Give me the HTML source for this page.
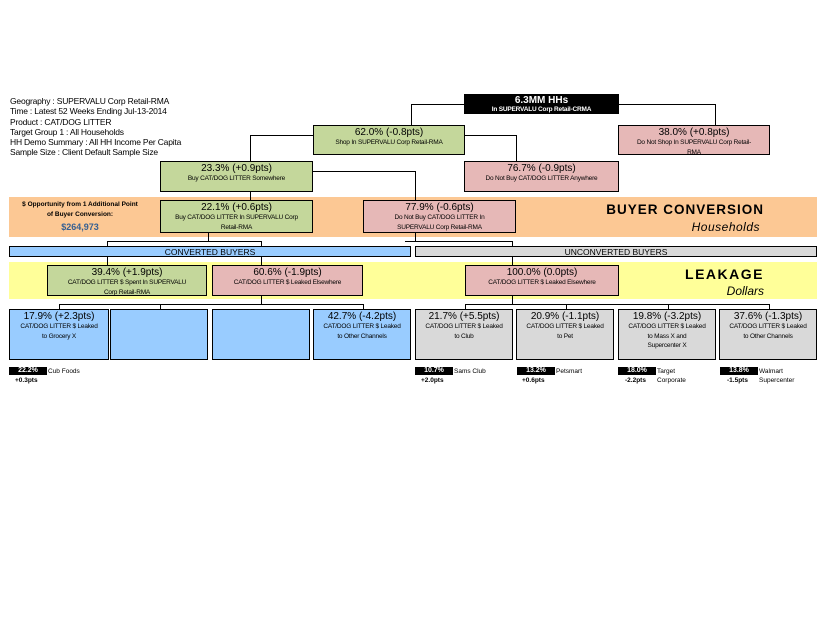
<!DOCTYPE html>
<html><head><meta charset="utf-8"><style>
body{margin:0;width:825px;height:638px;background:#fff;position:relative;overflow:hidden;font-family:"Liberation Sans",Arial,sans-serif;color:#000}
div{position:absolute;box-sizing:border-box}
.b div{position:static}
.b{border:1px solid #000;text-align:center;line-height:1}
.g{background:#c4d79b}.p{background:#e6b8b7}.bl{background:#99ccff}.gr{background:#d9d9d9}
.t{font-size:10px;margin-top:1px;line-height:11px}
.s{font-size:6.5px;line-height:9.5px;letter-spacing:-0.2px;white-space:nowrap}
.ln{background:#000}
.bd{background:#000;color:#fff;font-size:7px;font-weight:bold;text-align:center;height:8px;line-height:8px;width:38px}
.dl{font-size:6.5px;font-weight:bold}
.nm{font-size:6.5px;line-height:9px}
</style></head><body>
<div style="left:10px;top:96px;font-size:8.5px;line-height:10.3px;letter-spacing:-0.2px">Geography : SUPERVALU Corp Retail-RMA<br>Time : Latest 52 Weeks Ending Jul-13-2014<br>Product : CAT/DOG LITTER<br>Target Group 1 : All Households<br>HH Demo Summary : All HH Income Per Capita<br>Sample Size : Client Default Sample Size</div>

<!-- bands -->
<div style="left:9px;top:197px;width:808px;height:40px;background:#fcc894"></div>
<div style="left:9px;top:262px;width:808px;height:37px;background:#ffff99"></div>
<div style="left:5px;top:200px;width:150px;font-size:6.5px;font-weight:bold;text-align:center;line-height:10px;white-space:nowrap">$ Opportunity from 1 Additional Point<br>of Buyer Conversion:</div>
<div style="left:5px;top:222px;width:150px;font-size:9px;font-weight:bold;color:#366092;text-align:center">$264,973</div>
<div style="left:560px;top:202px;width:204px;text-align:right;font-size:13.5px;font-weight:bold;letter-spacing:1px;white-space:nowrap">BUYER CONVERSION</div>
<div style="left:560px;top:220px;width:200px;text-align:right;font-size:12px;font-style:italic;letter-spacing:0.5px">Households</div>
<div style="left:600px;top:266px;width:164px;text-align:right;font-size:14px;font-weight:bold;letter-spacing:1.5px">LEAKAGE</div>
<div style="left:600px;top:284px;width:164px;text-align:right;font-size:12px;font-style:italic">Dollars</div>

<!-- connectors -->
<div class="ln" style="left:411px;top:104px;width:53px;height:1px"></div>
<div class="ln" style="left:411px;top:104px;width:1px;height:21px"></div>
<div class="ln" style="left:619px;top:104px;width:96px;height:1px"></div>
<div class="ln" style="left:715px;top:104px;width:1px;height:21px"></div>
<div class="ln" style="left:465px;top:135px;width:51px;height:1px"></div>
<div class="ln" style="left:516px;top:135px;width:1px;height:26px"></div>
<div class="ln" style="left:250px;top:135px;width:63px;height:1px"></div>
<div class="ln" style="left:250px;top:135px;width:1px;height:26px"></div>
<div class="ln" style="left:313px;top:171px;width:102px;height:1px"></div>
<div class="ln" style="left:415px;top:171px;width:1px;height:29px"></div>
<div class="ln" style="left:250px;top:192px;width:1px;height:8px"></div>
<div class="ln" style="left:208px;top:233px;width:1px;height:8px"></div>
<div class="ln" style="left:107px;top:241px;width:155px;height:1px"></div>
<div class="ln" style="left:107px;top:241px;width:1px;height:5px"></div>
<div class="ln" style="left:261px;top:241px;width:1px;height:5px"></div>
<div class="ln" style="left:415px;top:233px;width:1px;height:9px"></div>
<div class="ln" style="left:405px;top:241px;width:108px;height:1px"></div>
<div class="ln" style="left:512px;top:241px;width:1px;height:5px"></div>
<div class="ln" style="left:107px;top:257px;width:1px;height:8px"></div>
<div class="ln" style="left:261px;top:257px;width:1px;height:8px"></div>
<div class="ln" style="left:512px;top:257px;width:1px;height:8px"></div>
<div class="ln" style="left:261px;top:296px;width:1px;height:9px"></div>
<div class="ln" style="left:59px;top:304px;width:305px;height:1px"></div>
<div class="ln" style="left:59px;top:304px;width:1px;height:5px"></div>
<div class="ln" style="left:160px;top:304px;width:1px;height:5px"></div>
<div class="ln" style="left:363px;top:304px;width:1px;height:5px"></div>
<div class="ln" style="left:512px;top:296px;width:1px;height:9px"></div>
<div class="ln" style="left:465px;top:304px;width:305px;height:1px"></div>
<div class="ln" style="left:465px;top:304px;width:1px;height:5px"></div>
<div class="ln" style="left:566px;top:304px;width:1px;height:5px"></div>
<div class="ln" style="left:668px;top:304px;width:1px;height:5px"></div>
<div class="ln" style="left:769px;top:304px;width:1px;height:5px"></div>

<!-- boxes -->
<div class="b" style="left:464px;top:94px;width:155px;height:20px;background:#000;color:#fff"><div class="t" style="font-weight:bold;font-size:10px;margin-top:1px;line-height:10px">6.3MM HHs</div><div class="s" style="font-weight:bold;line-height:7px">In SUPERVALU Corp Retail-CRMA</div></div>
<div class="b g" style="left:313px;top:125px;width:152px;height:30px"><div class="t">62.0% (-0.8pts)</div><div class="s">Shop In SUPERVALU Corp Retail-RMA</div></div>
<div class="b p" style="left:618px;top:125px;width:152px;height:30px"><div class="t">38.0% (+0.8pts)</div><div class="s">Do Not Shop In SUPERVALU Corp Retail-<br>RMA</div></div>
<div class="b g" style="left:160px;top:161px;width:153px;height:31px"><div class="t">23.3% (+0.9pts)</div><div class="s">Buy CAT/DOG LITTER Somewhere</div></div>
<div class="b p" style="left:464px;top:161px;width:155px;height:31px"><div class="t">76.7% (-0.9pts)</div><div class="s">Do Not Buy CAT/DOG LITTER Anywhere</div></div>
<div class="b g" style="left:160px;top:200px;width:153px;height:33px"><div class="t">22.1% (+0.6pts)</div><div class="s">Buy CAT/DOG LITTER In SUPERVALU Corp<br>Retail-RMA</div></div>
<div class="b p" style="left:363px;top:200px;width:153px;height:33px"><div class="t">77.9% (-0.6pts)</div><div class="s">Do Not Buy CAT/DOG LITTER In<br>SUPERVALU Corp Retail-RMA</div></div>

<div class="b bl" style="left:9px;top:246px;width:402px;height:11px;font-size:8.5px;line-height:10px">CONVERTED BUYERS</div>
<div class="b gr" style="left:415px;top:246px;width:402px;height:11px;font-size:8.5px;line-height:10px">UNCONVERTED BUYERS</div>

<div class="b g" style="left:47px;top:265px;width:160px;height:31px"><div class="t">39.4% (+1.9pts)</div><div class="s">CAT/DOG LITTER $ Spent In SUPERVALU<br>Corp Retail-RMA</div></div>
<div class="b p" style="left:212px;top:265px;width:151px;height:31px"><div class="t">60.6% (-1.9pts)</div><div class="s">CAT/DOG LITTER $ Leaked Elsewhere</div></div>
<div class="b p" style="left:465px;top:265px;width:154px;height:31px"><div class="t">100.0% (0.0pts)</div><div class="s">CAT/DOG LITTER $ Leaked Elsewhere</div></div>

<div class="b bl" style="left:9px;top:309px;width:100px;height:51px"><div class="t">17.9% (+2.3pts)</div><div class="s">CAT/DOG LITTER $ Leaked<br>to Grocery X</div></div>
<div class="b bl" style="left:110px;top:309px;width:98px;height:51px"></div>
<div class="b bl" style="left:212px;top:309px;width:98px;height:51px"></div>
<div class="b bl" style="left:313px;top:309px;width:98px;height:51px"><div class="t">42.7% (-4.2pts)</div><div class="s">CAT/DOG LITTER $ Leaked<br>to Other Channels</div></div>
<div class="b gr" style="left:415px;top:309px;width:98px;height:51px"><div class="t">21.7% (+5.5pts)</div><div class="s">CAT/DOG LITTER $ Leaked<br>to Club</div></div>
<div class="b gr" style="left:516px;top:309px;width:98px;height:51px"><div class="t">20.9% (-1.1pts)</div><div class="s">CAT/DOG LITTER $ Leaked<br>to Pet</div></div>
<div class="b gr" style="left:618px;top:309px;width:98px;height:51px"><div class="t">19.8% (-3.2pts)</div><div class="s">CAT/DOG LITTER $ Leaked<br>to Mass X and<br>Supercenter X</div></div>
<div class="b gr" style="left:719px;top:309px;width:98px;height:51px"><div class="t">37.6% (-1.3pts)</div><div class="s">CAT/DOG LITTER $ Leaked<br>to Other Channels</div></div>

<!-- badges -->
<div class="bd" style="left:9px;top:367px">22.2%</div><div class="nm" style="left:48px;top:367px">Cub Foods</div><div class="dl" style="left:15px;top:377px">+0.3pts</div>
<div class="bd" style="left:415px;top:367px">10.7%</div><div class="nm" style="left:454px;top:367px">Sams Club</div><div class="dl" style="left:421px;top:377px">+2.0pts</div>
<div class="bd" style="left:517px;top:367px">13.2%</div><div class="nm" style="left:556px;top:367px">Petsmart</div><div class="dl" style="left:522px;top:377px">+0.6pts</div>
<div class="bd" style="left:618px;top:367px">18.0%</div><div class="nm" style="left:657px;top:367px">Target<br>Corporate</div><div class="dl" style="left:625px;top:377px">-2.2pts</div>
<div class="bd" style="left:720px;top:367px">13.8%</div><div class="nm" style="left:759px;top:367px">Walmart<br>Supercenter</div><div class="dl" style="left:727px;top:377px">-1.5pts</div>
</body></html>
